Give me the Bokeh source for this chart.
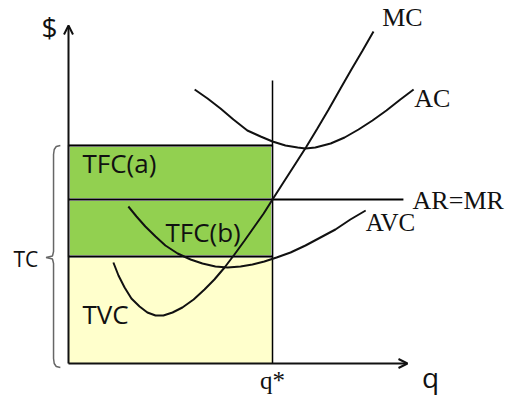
from bokeh.plotting import figure
from bokeh.models import Range1d, Arrow, OpenHead
from bokeh.core.properties import value
from bokeh.embed import file_html
from bokeh.resources import INLINE

# ---- data (quantity q, cost $) ----
mc_q = [1.32, 1.47, 1.65, 1.85, 2.09, 2.32, 2.56, 2.79, 3.06, 3.35, 3.68, 4.00, 4.29, 4.59,
        4.88, 5.18, 5.47, 5.74, 6.00, 6.32, 6.68, 7.00, 7.32, 7.65, 8.00, 8.32, 8.65, 8.97]
mc_c = [5.05, 4.40, 3.80, 3.25, 2.85, 2.55, 2.40, 2.40, 2.55, 2.80, 3.20, 3.70, 4.20, 4.80,
        5.45, 6.15, 6.85, 7.50, 8.20, 9.05, 10.00, 10.85, 11.75, 12.70, 13.75, 14.70, 15.65, 16.60]

ac_q = [3.71, 4.09, 4.47, 4.85, 5.26, 5.65, 6.00, 6.38, 6.74, 6.97, 7.26, 7.71, 8.12, 8.53,
        8.94, 9.35, 9.76, 10.15]
ac_c = [13.70, 13.25, 12.75, 12.20, 11.65, 11.35, 11.10, 10.90, 10.80, 10.75, 10.80, 11.00,
        11.30, 11.70, 12.15, 12.65, 13.20, 13.70]

avc_q = [1.76, 2.00, 2.26, 2.56, 2.85, 3.21, 3.59, 3.94, 4.32, 4.68, 5.06, 5.41, 5.76, 6.12,
         6.53, 6.97, 7.41, 7.85, 8.29, 8.74]
avc_c = [7.85, 7.35, 6.85, 6.35, 5.90, 5.50, 5.20, 5.00, 4.85, 4.80, 4.85, 4.95, 5.10, 5.30,
         5.55, 5.90, 6.30, 6.70, 7.20, 7.65]

q_star = 6.0
price = 8.2          # AR = MR
ac_at_q = 10.9       # AC(q*)
avc_at_q = 5.35      # AVC(q*)
mr_end = 9.85
q_axis_end = 9.97
c_axis_end = 16.9

labels_serif = ["MC", "AC", "AR=MR", "AVC"]
labels_sans = ["TFC(a)", "TFC(b)", "TVC", "TC"]

p = figure(width=509, height=396, output_backend="svg", toolbar_location=None,
           x_range=Range1d(-2.0, 12.97), y_range=Range1d(-1.65, 18.15),
           min_border=0, min_border_left=0, min_border_right=0,
           min_border_top=0, min_border_bottom=0)
p.axis.visible = False
p.grid.visible = False
p.outline_line_color = None
p.background_fill_color = "white"
p.border_fill_color = "white"

GREEN = "#92D050"
YELLOW = "#FFFFCC"

# areas
p.quad(left=[0], right=[q_star], bottom=[0], top=[avc_at_q], fill_color=YELLOW,
       line_color="#d8d8c8", line_width=1)
p.quad(left=[0], right=[q_star], bottom=[avc_at_q], top=[price], fill_color=GREEN,
       line_color="#e4e4e4", line_width=3)
p.quad(left=[0], right=[q_star], bottom=[price], top=[ac_at_q], fill_color=GREEN,
       line_color="#e4e4e4", line_width=3)

# horizontal level lines
p.line([0, q_star], [ac_at_q, ac_at_q], line_color="black", line_width=2)
p.line([0, q_star], [avc_at_q, avc_at_q], line_color="black", line_width=2)
p.line([0, mr_end], [price, price], line_color="black", line_width=2)
# q* vertical
p.line([q_star, q_star], [0, 14.15], line_color="black", line_width=1.5)

# curves
for xs, ys in [(mc_q, mc_c), (ac_q, ac_c), (avc_q, avc_c)]:
    p.line(xs, ys, line_color="#111111", line_width=2)

# axes with arrows
p.add_layout(Arrow(end=OpenHead(size=9, line_width=2, line_color="#111111"),
                   x_start=0, y_start=0, x_end=0, y_end=c_axis_end,
                   line_width=2, line_color="#111111"))
p.add_layout(Arrow(end=OpenHead(size=9, line_width=2, line_color="#111111"),
                   x_start=0, y_start=0, x_end=q_axis_end, y_end=0,
                   line_width=2, line_color="#111111"))

# TC bracket
bx, cx, tx = -0.44, -0.24, -0.66
bot = -0.2
mid = avc_at_q - 0.05
br_x = [cx, -0.36, -0.42, bx, bx, -0.47, tx, -0.47, bx, bx, -0.42, -0.36, cx]
br_y = [ac_at_q, ac_at_q - 0.05, ac_at_q - 0.2, ac_at_q - 0.45, mid + 0.3, mid + 0.08, mid,
        mid - 0.08, mid - 0.3, bot + 0.45, bot + 0.2, bot + 0.05, bot]
p.line(br_x, br_y, line_color="#666666", line_width=1.5)

serif = value("Liberation Serif")
sans = value("Open Sans")

# serif curve labels
p.text(x=[9.82], y=[17.3], text=[labels_serif[0]], text_font=serif, text_font_size="26px",
       text_align="center", text_baseline="middle", text_color="#111111")
p.text(x=[10.7], y=[13.25], text=[labels_serif[1]], text_font=serif, text_font_size="26px",
       text_align="center", text_baseline="middle", text_color="#111111")
p.text(x=[10.12], y=[8.15], text=[labels_serif[2]], text_font=serif, text_font_size="26px",
       text_align="left", text_baseline="middle", text_color="#111111")
p.text(x=[9.47], y=[7.05], text=[labels_serif[3]], text_font=serif, text_font_size="25px",
       text_align="center", text_baseline="middle", text_color="#111111")

# sans area labels
p.text(x=[0.41], y=[10.05], text=[labels_sans[0]], text_font=sans, text_font_size="26px",
       text_align="left", text_baseline="middle", text_color="#111111")
p.text(x=[2.85], y=[6.6], text=[labels_sans[1]], text_font=sans, text_font_size="26px",
       text_align="left", text_baseline="middle", text_color="#111111")
p.text(x=[0.41], y=[2.5], text=[labels_sans[2]], text_font=sans, text_font_size="26px",
       text_align="left", text_baseline="middle", text_color="#111111")
p.text(x=[-1.62], y=[5.25], text=[labels_sans[3]], text_font=sans, text_font_size="21px",
       text_align="left", text_baseline="middle", text_color="#111111")

# axis titles
p.text(x=[-0.56], y=[16.85], text=["$"], text_font=sans, text_font_size="28px",
       text_align="center", text_baseline="middle", text_color="#111111")
p.text(x=[10.65], y=[-0.65], text=["q"], text_font=sans, text_font_size="28px",
       text_align="center", text_baseline="middle", text_color="#111111")
p.text(x=[q_star], y=[-0.85], text=["q*"], text_font=serif, text_font_size="25px",
       text_align="center", text_baseline="middle", text_color="#111111")

open("out.html", "w").write(file_html(p, INLINE))
